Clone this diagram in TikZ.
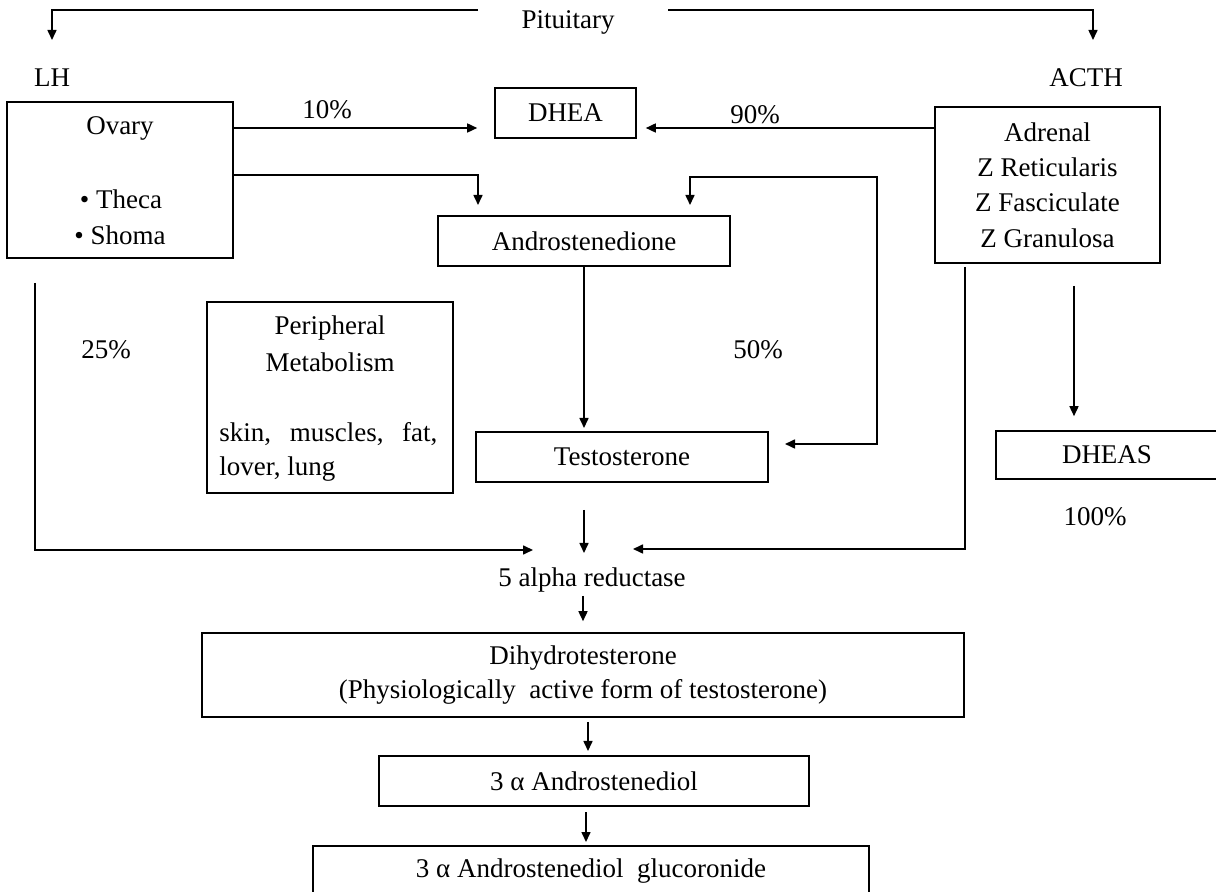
\documentclass[tikz,border=0pt]{standalone}
\usepackage{fontspec}
\setmainfont{Liberation Serif}
\usetikzlibrary{arrows.meta}
\begin{document}
\begin{tikzpicture}[x=0.5pt,y=-0.5pt,
  every node/.style={font=\fontsize{13.5}{17}\selectfont, inner sep=0pt},
  box/.style={draw, line width=0.8pt, rectangle},
  arr/.style={-{Triangle[length=5pt,width=4.5pt]}, line width=0.8pt},
  darr/.style={{Triangle[length=5pt,width=4.5pt]}-{Triangle[length=5pt,width=4.5pt]}, line width=0.8pt},
  ln/.style={line width=0.8pt}]
\useasboundingbox (0,0) rectangle (1216,892);

% boxes
\node[box, minimum width=113pt, minimum height=78pt] (ovary) at (120,180) {};
\node[box, minimum width=70.5pt, minimum height=25pt] (dhea) at (565.5,113) {DHEA};
\node[box, minimum width=112.5pt, minimum height=78pt, align=center, font=\fontsize{13.5}{17.6}\selectfont] (adrenal) at (1047.5,185) {Adrenal\\Z Reticularis\\Z Fasciculate\\Z Granulosa};
\node[box, minimum width=146pt, minimum height=25pt] (andro) at (584,241) {Androstenedione};
\node[box, minimum width=123pt, minimum height=95.5pt] (periph) at (330,397.5) {};
\node[box, minimum width=146pt, minimum height=25pt] (testo) at (622,457) {Testosterone};
\node[box, minimum width=111pt, minimum height=24pt] (dheas) at (1107,455) {DHEAS};
\node[box, minimum width=381pt, minimum height=42pt, align=center] (dht) at (583,675) {Dihydrotesterone\\(Physiologically\ \ active form of testosterone)};
\node[box, minimum width=215pt, minimum height=25pt] (a3) at (594,781) {3 α Androstenediol};
\node[box, minimum width=278pt, minimum height=25.5pt] (gluc) at (591,871.5) {3 α Androstenediol\ \ glucoronide};

% texts inside boxes
\node (ovt) at (120,128) {Ovary};
\node (th) at (121,199) {• Theca};
\node (sh) at (120,235) {• Shoma};
\node (pe1) at (330,328) {Peripheral};
\node (pe2) at (330,362) {Metabolism};
\node[anchor=west] (pe3) at (219,434) {\makebox[109pt][s]{skin, muscles, fat,}};
\node[anchor=west] (pe4) at (219,469) {lover, lung};

% labels
\node (pit) at (568,22) {Pituitary};
\node (lh) at (52,78) {LH};
\node (acth) at (1086,78) {ACTH};
\node (p10) at (327,110) {10\%};
\node (p90) at (755,115) {90\%};
\node (p25) at (106,350) {25\%};
\node (p50) at (758,350) {50\%};
\node (p100) at (1095,517) {100\%};
\node (red) at (592,580) {5 alpha reductase};

% coordinates
\coordinate (pl) at (478,10);
\coordinate (pr) at (668,10);
\coordinate (lhin) at (52,40);
\coordinate (acthin) at (1093,40);
\coordinate (andin) at (478,205);
\coordinate (loopA) at (690,205);
\coordinate (loopT) at (785,444);
\coordinate (ovl) at (35,283);
\coordinate (redl) at (533,550);
\coordinate (adl) at (965,267);
\coordinate (redr) at (633,549);

% connectors
\draw[arr] (pl) -| (lhin);
\draw[arr] (pr) -| (acthin);
\draw[arr] (ovary.east |- 0,128) -- ([xshift=-8.5pt]dhea.west |- 0,128);
\draw[arr] (adrenal.west |- 0,128) -- ([xshift=4.5pt]dhea.east |- 0,128);
\draw[arr] (ovary.east |- 0,175) -| (andin);
\draw[darr] (loopA) |- (877,177) |- (loopT);
\draw[arr] (andro.south) -- (andro.south |- 0,428);
\draw[arr] (ovl) |- (redl);
\draw[arr] (adl) |- (redr);
\draw[arr] (584,510) -- (584,553);
\draw[arr] (1074,286) -- ([yshift=7pt]dheas.north -| 1074,0);
\draw[arr] (583,596) -- ([yshift=5.5pt]dht.north -| 583,0);
\draw[arr] (588,722) -- (588,751);
\draw[arr] (586,812) -- (586,842);
\end{tikzpicture}
\end{document}
